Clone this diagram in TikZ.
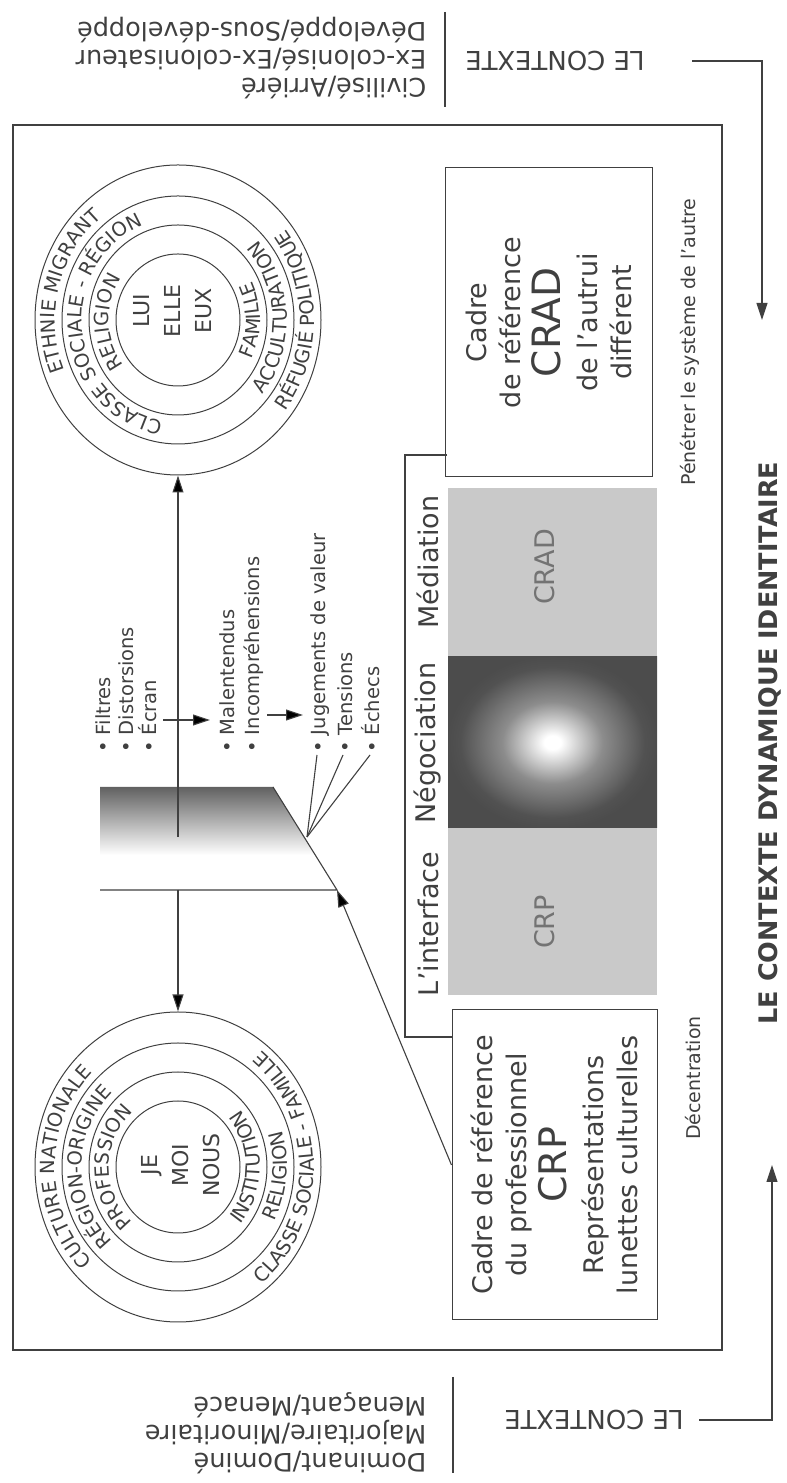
\documentclass[tikz,border=0pt]{standalone}
\usepackage{fontspec}
\setmainfont{DejaVu Sans}
\usetikzlibrary{arrows.meta,decorations.text,shapes.geometric}

\definecolor{ink}{gray}{0.25}
\definecolor{panel}{gray}{0.79}
\pgfdeclareradialshading{glow}{\pgfpoint{0bp}{0bp}}{color(0bp)=(white);color(2bp)=(white);color(12bp)=(black!45);color(22bp)=(black!68);color(25bp)=(black!70);color(50bp)=(black!70)}
\pgfdeclareverticalshading{fade}{100bp}{color(0bp)=(white);color(42bp)=(white);color(75bp)=(black!62);color(100bp)=(black!62)}

\newcommand\ringfont{\fontsize{19.5}{19.5}\selectfont}
% text along an elliptic ring: centre, start angle, delta, x radius, y radius, text
\newcommand\arclabel[6]{%
  \path[decorate,decoration={text along path,text align=center,
    text color=ink,text={|\ringfont|#6}}]
    (#1) ++(#2:#4 and #5) arc[start angle=#2,delta angle=#3,x radius=#4,y radius=#5];}

\begin{document}
\begin{tikzpicture}[x=1pt,y=1pt,
  every node/.style={text=ink},
  link/.style={draw=ink,line width=1.1pt},
  tip/.style={-{Triangle[length=17pt,width=11pt]}},
  ring/.style={draw=ink,line width=1pt,ellipse,inner sep=0pt},
  box/.style={draw=ink,line width=1pt,rotate=90,align=center},
  up/.style={rotate=90},
  corner/.style={rotate=180,anchor=west,align=left,font=\fontsize{25.5}{28}\selectfont},
  ctx/.style={rotate=180,font=\fontsize{26}{26}\selectfont},
  bullets/.style={rotate=90,anchor=west,align=left,inner sep=0pt},
  tag/.style={rotate=90,text=black!55,font=\fontsize{27}{27}\selectfont},
  note/.style={rotate=90,font=\fontsize{19}{19}\selectfont}]
\useasboundingbox (0,0) rectangle (787,1483);

% frame
\draw[link] (13,133) rectangle (722,1358);

% contexts
\node[ctx] (ctxtop) at (555,1422) {LE CONTEXTE};
\node[ctx] (ctxbot) at (594,63) {LE CONTEXTE};
\draw[link] (445,1471) -- (445,1376);
\draw[link] (453,106) -- (453,10);
\node[corner] (pairtop) at (430,1425) {Civilisé/Arriéré\\Ex-colonisé/Ex-colonisateur\\Développé/Sous-développé};
\node[corner] (pairbot) at (430,50) {Dominant/Dominé\\Majoritaire/Minoritaire\\Menaçant/Menacé};
\coordinate (autre) at (762,1163);
\coordinate (soi) at (772,318);
\draw[link,tip] (ctxtop.west) ++(44,0) -| (autre);
\draw[link,tip] (ctxbot.west) ++(12,0) -| (soi);
\node[up,font=\bfseries\fontsize{25.5}{25.5}\selectfont] (title) at (770,740) {LE CONTEXTE DYNAMIQUE IDENTITAIRE};

% rings
\coordinate (ctop) at (178,1163);
\coordinate (cbot) at (178,316);
\foreach \rx/\ry [count=\k] in {143/155,116/124,89/95,62/66} {
  \node[ring,minimum width=2*\rx,minimum height=2*\ry] (lui\k) at (ctop) {};
  \node[ring,minimum width=2*\rx,minimum height=2*\ry] (moi\k) at (cbot) {};
}
\node[up,align=center,font=\fontsize{22}{31}\selectfont] (lui) at (173,1172) {LUI\\ELLE\\EUX};
\node[up,align=center,font=\fontsize{22}{31}\selectfont] (moi) at (181,318) {JE\\MOI\\NOUS};

\arclabel{ctop}{240}{-150}{123}{131}{ETHNIE MIGRANT}
\arclabel{ctop}{-80}{160}{136}{148}{RÉFUGIÉ POLITIQUE}
\arclabel{ctop}{286}{-200}{96}{102}{CLASSE SOCIALE - RÉGION}
\arclabel{ctop}{-80}{164}{109}{117}{ACCULTURATION}
\arclabel{ctop}{272}{-180}{69}{73}{RELIGION}
\arclabel{ctop}{-90}{180}{82}{88}{FAMILLE}

\arclabel{cbot}{260}{-160}{123}{131}{CULTURE NATIONALE}
\arclabel{cbot}{-80}{160}{136}{148}{CLASSE SOCIALE - FAMILLE}
\arclabel{cbot}{270}{-180}{96}{102}{RÉGION-ORIGINE}
\arclabel{cbot}{-90}{170}{109}{117}{RELIGION}
\arclabel{cbot}{270}{-180}{69}{73}{PROFESSION}
\arclabel{cbot}{-90}{180}{82}{88}{INSTITUTION}

% screen
\coordinate (pTL) at (100,696);
\coordinate (pTR) at (273,696);
\coordinate (pBR) at (337,593);
\coordinate (pBL) at (100,593);
\shade[shading=fade] (pTL) -- (pTR) -- (pBR) -- (pBL) -- cycle;
\draw[link] (pTR) -- (pBR) -- (pBL);
\coordinate (pmid) at (178,646);
\coordinate (pdown) at (178,593);
\coordinate (pfoot) at (307,646);
\draw[link,tip] (pmid) -- (lui1.south);
\draw[link,tip] (pdown) -- (moi1.north);

% lists
\node[bullets,font=\fontsize{19.5}{23}\selectfont] (filtres) at (126,730) {• Filtres\\• Distorsions\\• Écran};
\node[bullets,font=\fontsize{19.5}{25}\selectfont] (malentendus) at (242,730) {• Malentendus\\• Incompréhensions};
\node[bullets,font=\fontsize{19.5}{27}\selectfont] (jugements) at (345,730) {• Jugements de valeur\\• Tensions\\• Échecs};
\coordinate (a1) at (163,763);
\coordinate (a2) at (210,763);
\coordinate (a3) at (267,768);
\coordinate (a4) at (303,768);
\draw[link,tip] (a1) -- (a2);
\draw[link,tip] (a3) -- (a4);
\foreach \bx [count=\i] in {317,343,370}
  \coordinate (b\i) at (\bx,728);
\foreach \i in {1,2,3}
  \draw[link] (pfoot) -- (b\i);

% interface
\draw[link] (447,1028) -- (405,1028) -- (405,446) -- (452,446);
\fill[panel] (448,826) rectangle (657,995);
\shade[shading=glow] (448,655) rectangle (657,826);
\fill[panel] (448,488) rectangle (657,655);
\node[tag] (crad) at (545,916) {CRAD};
\node[tag] (crp) at (545,561) {CRP};
\node[up,font=\fontsize{27}{27}\selectfont] (interface) at (428,559) {L'interface};
\node[up,font=\fontsize{27}{27}\selectfont] (negociation) at (428,740) {Négociation};
\node[up,font=\fontsize{27}{27}\selectfont] (mediation) at (428,921) {Médiation};

\node[box,minimum width=309,minimum height=207,font=\fontsize{27}{34}\selectfont] (cradbox) at (548.5,1160.5)
  {Cadre\\de référence\\[6pt]{\fontsize{39}{39}\selectfont CRAD}\\[3pt]de l'autrui\\différent};
\node[box,minimum width=310,minimum height=205,font=\fontsize{27}{34}\selectfont] (crpbox) at (554.5,318)
  {Cadre de référence\\du professionnel\\[6pt]{\fontsize{38}{38}\selectfont CRP}\\[3pt]Représentations\\lunettes culturelles};
\draw[link,tip] (crpbox.north) -- (pBR);

\node[note] (penetrer) at (690,1141) {Pénétrer le système de l'autre};
\node[note] (decentration) at (693,405) {Décentration};
\end{tikzpicture}
\end{document}
